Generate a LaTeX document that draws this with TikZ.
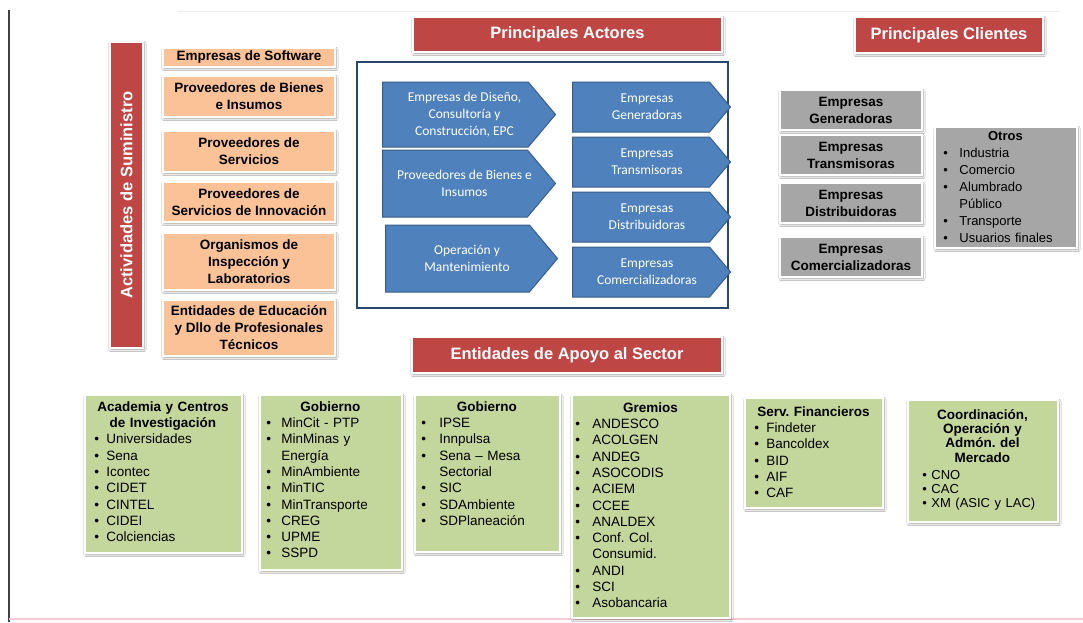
\documentclass[tikz,border=0pt]{standalone}
\usepackage{fontspec}
\setmainfont{Liberation Sans}
\newfontfamily\arrowFont{Carlito}
\frenchspacing
\usetikzlibrary{positioning,shapes.symbols,shadows.blur}
\definecolor{bannerRed}{RGB}{190,70,68}
\definecolor{supplierOrange}{RGB}{250,194,150}
\definecolor{actorBlue}{RGB}{79,129,189}
\definecolor{actorBorder}{RGB}{56,93,138}
\definecolor{frameBlue}{RGB}{40,70,110}
\definecolor{clientGray}{RGB}{166,166,166}
\definecolor{supportGreen}{RGB}{195,214,155}
\definecolor{pageLine}{RGB}{245,200,212}
\tikzstyle{boxShadow} = [blur shadow={shadow blur steps=6, shadow xshift=1pt, shadow yshift=-1.5pt, shadow opacity=40}]
\tikzstyle{bannerStyle} = [boxShadow, fill=bannerRed, draw=white, line width=1.5pt, text=white, font=\fontsize{16.5}{18}\selectfont\bfseries, inner sep=0pt]
\tikzstyle{supplierStyle} = [boxShadow, fill=supplierOrange, draw=white, line width=1.5pt, align=center, font=\fontsize{13.5}{17}\selectfont\bfseries, inner sep=0pt]
\tikzstyle{actorArrow} = [signal, signal to=east, signal pointer angle=100, fill=actorBlue, draw=actorBorder, line width=1pt, inner sep=0pt, anchor=west]
\tikzstyle{actorText} = [text=white, align=center, font=\arrowFont\fontsize{13.5}{17}\selectfont, inner sep=0pt]
\tikzstyle{frameStyle} = [draw=frameBlue, line width=2.5pt, fill=white]
\tikzstyle{clientStyle} = [boxShadow, fill=clientGray, draw=white, line width=1.5pt, align=center, font=\fontsize{13.5}{17}\selectfont\bfseries, inner sep=0pt]
\tikzstyle{supportStyle} = [boxShadow, fill=supportGreen, draw=white, line width=1.5pt, inner sep=0pt]
\tikzstyle{listText} = [inner sep=0pt, align=left, font=\fontsize{13.5}{16.3}\selectfont]
\newcommand{\placeBox}[7]{\node [#2, minimum width=#5, minimum height=#6] (#1) at (#3 + #5 / 2, #4 + #6 / 2) {#7};}
\newcommand{\actorBox}[6]{\node [actorArrow, minimum width=#4, minimum height=#5] (#1) at (#2, #3 + #5 / 2) {};
  \node [actorText] (#1Text) at ([xshift=#4 / 2 - 4]#1.west) {#6};}
\newcommand{\bItem}[2][15pt]{\makebox[#1][l]{\textbullet}#2}
\newcommand{\bMore}[2][15pt]{\hspace*{#1}#2}
\newcommand{\listTitle}[1]{\makebox[\hsize][c]{\bfseries #1}}

\begin{document}
\begin{tikzpicture}[x=1pt, y=-1pt]
\useasboundingbox (0,0) rectangle (1083,622);
\fill [white] (0,0) rectangle (1083,622);
\draw [gray!15, line width=1pt] (177,11) -- (1060,11);
\draw [black!75, line width=1.2pt] (9,10) -- (9,622);
\draw [pageLine, line width=2pt] (9,619) -- (1083,619);

% suministro
\placeBox{suministro}{bannerStyle}{110}{42}{33}{306}{}
\node [rotate=90, text=white, font=\fontsize{16.5}{18}\selectfont\bfseries] (suministroText) at (suministro.center) {Actividades de Suministro};
\placeBox{software}{supplierStyle}{163}{48}{172}{19}{Empresas de Software}
\placeBox{bienes}{supplierStyle}{163}{76}{172}{41}{Proveedores de Bienes\\e Insumos}
\placeBox{servicios}{supplierStyle}{163}{131}{172}{41}{Proveedores de\\Servicios}
\placeBox{innovacion}{supplierStyle}{163}{182}{172}{40}{Proveedores de\\Servicios de Innovación}
\placeBox{organismos}{supplierStyle}{163}{233}{172}{57}{Organismos de\\Inspección y\\Laboratorios}
\placeBox{educacion}{supplierStyle}{163}{300}{172}{56}{Entidades de Educación\\y Dllo de Profesionales\\Técnicos}

% actores
\placeBox{actores}{bannerStyle}{413}{17}{309}{35}{Principales Actores}
\placeBox{actoresFrame}{frameStyle}{357}{62}{371}{246}{}
\actorBox{diseno}{382}{82}{173}{65}{Empresas de Diseño,\\Consultoría y\\Construcción, EPC}
\actorBox{proveedores}{382}{150}{173}{67}{Proveedores de Bienes e\\Insumos}
\actorBox{operacion}{385}{225}{172}{67}{Operación y\\Mantenimiento}
\actorBox{generadoras}{572}{82}{158}{50}{Empresas\\Generadoras}
\actorBox{transmisoras}{572}{137}{158}{50}{Empresas\\Transmisoras}
\actorBox{distribuidoras}{572}{192}{158}{50}{Empresas\\Distribuidoras}
\actorBox{comercializadoras}{572}{247}{158}{50}{Empresas\\Comercializadoras}

% clientes
\placeBox{clientes}{bannerStyle}{855}{17}{188}{36}{Principales Clientes}
\placeBox{cliGeneradoras}{clientStyle}{780}{90}{142}{40}{Empresas\\Generadoras}
\placeBox{cliTransmisoras}{clientStyle}{780}{135}{142}{40}{Empresas\\Transmisoras}
\placeBox{cliDistribuidoras}{clientStyle}{780}{183}{142}{40}{Empresas\\Distribuidoras}
\placeBox{cliComercializadoras}{clientStyle}{780}{237}{142}{40}{Empresas\\Comercializadoras}
\placeBox{otros}{clientStyle}{935}{127}{142}{121}{}
\node [listText, font=\fontsize{13}{17}\selectfont, text width=124pt, below right=5pt and 9pt of otros.north west] (otrosText) {\listTitle{Otros}\\\bItem[16pt]{Industria}\\\bItem[16pt]{Comercio}\\\bItem[16pt]{Alumbrado}\\\bMore[16pt]{Público}\\\bItem[16pt]{Transporte}\\\bItem[16pt]{Usuarios finales}};

% apoyo
\placeBox{apoyo}{bannerStyle}{412}{337}{310}{36}{Entidades de Apoyo al Sector}
\placeBox{academia}{supportStyle}{85}{395}{157}{158}{}
\node [listText, text width=137pt, below right=7pt and 10pt of academia.north west] (academiaText) {\listTitle{Academia y Centros}\\\listTitle{de Investigación}\\\bItem[12pt]{Universidades}\\\bItem[12pt]{Sena}\\\bItem[12pt]{Icontec}\\\bItem[12pt]{CIDET}\\\bItem[12pt]{CINTEL}\\\bItem[12pt]{CIDEI}\\\bItem[12pt]{Colciencias}};
\placeBox{gobierno}{supportStyle}{260}{395}{142}{175}{}
\node [listText, text width=128pt, below right=7pt and 7pt of gobierno.north west] (gobiernoText) {\listTitle{Gobierno}\\\bItem{MinCit - PTP}\\\bItem{MinMinas y}\\\bMore{Energía}\\\bItem{MinAmbiente}\\\bItem{MinTIC}\\\bItem{MinTransporte}\\\bItem{CREG}\\\bItem{UPME}\\\bItem{SSPD}};
\placeBox{entidades}{supportStyle}{415}{395}{145}{157}{}
\node [listText, text width=131pt, below right=7pt and 7pt of entidades.north west] (entidadesText) {\listTitle{Gobierno}\\\bItem[18pt]{IPSE}\\\bItem[18pt]{Innpulsa}\\\bItem[18pt]{Sena – Mesa}\\\bMore[18pt]{Sectorial}\\\bItem[18pt]{SIC}\\\bItem[18pt]{SDAmbiente}\\\bItem[18pt]{SDPlaneación}};
\placeBox{gremios}{supportStyle}{572}{395}{158}{223}{}
\node [listText, text width=150pt, below right=8pt and 4pt of gremios.north west] (gremiosText) {\listTitle{Gremios}\\\bItem[17pt]{ANDESCO}\\\bItem[17pt]{ACOLGEN}\\\bItem[17pt]{ANDEG}\\\bItem[17pt]{ASOCODIS}\\\bItem[17pt]{ACIEM}\\\bItem[17pt]{CCEE}\\\bItem[17pt]{ANALDEX}\\\bItem[17pt]{Conf. Col.}\\\bMore[17pt]{Consumid.}\\\bItem[17pt]{ANDI}\\\bItem[17pt]{SCI}\\\bItem[17pt]{Asobancaria}};
\placeBox{financieros}{supportStyle}{745}{398}{138}{110}{}
\node [listText, text width=118pt, below right=9pt and 10pt of financieros.north west] (financierosText) {\listTitle{Serv. Financieros}\\\bItem[12pt]{Findeter}\\\bItem[12pt]{Bancoldex}\\\bItem[12pt]{BID}\\\bItem[12pt]{AIF}\\\bItem[12pt]{CAF}};
\placeBox{mercado}{supportStyle}{908}{400}{150}{122}{}
\node [listText, text width=120pt, font=\fontsize{13.5}{14.3}\selectfont, below right=10pt and 15pt of mercado.north west] (mercadoText) {\listTitle{Coordinación,}\\\listTitle{Operación y}\\\listTitle{Admón. del}\\\listTitle{Mercado}\\[2.5pt]\fontsize{13}{14.3}\selectfont\bItem[9pt]{CNO}\\\bItem[9pt]{CAC}\\\bItem[9pt]{XM (ASIC y LAC)}};
\end{tikzpicture}
\end{document}
